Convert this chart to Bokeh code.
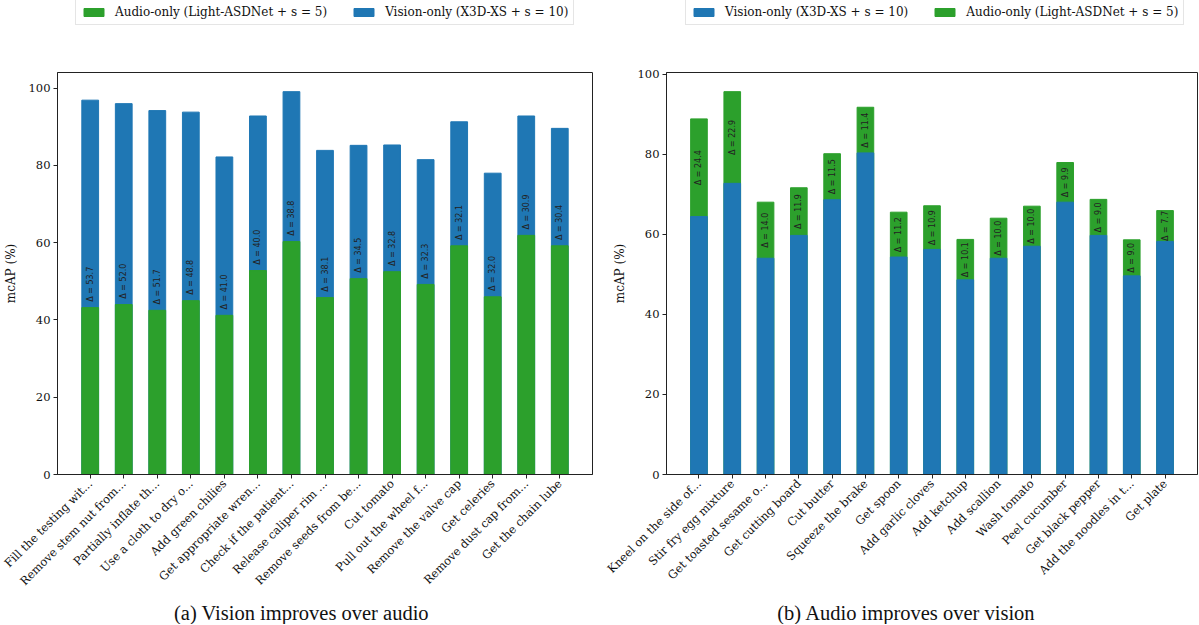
import math
from bokeh.plotting import figure
from bokeh.layouts import row, column
from bokeh.models import Legend, LegendItem, FixedTicker, ColumnDataSource, Range1d
from bokeh.core.properties import value
from bokeh.embed import file_html
from bokeh.resources import INLINE

# ---------------- data ----------------
left_actions = ["Fill the testing wit...", "Remove stem nut from...", "Partially inflate th...",
                "Use a cloth to dry o...", "Add green chilies", "Get appropriate wren...",
                "Check if the patient...", "Release caliper rim ...", "Remove seeds from be...",
                "Cut tomato", "Pull out the wheel f...", "Remove the valve cap",
                "Get celeries", "Remove dust cap from...", "Get the chain lube"]
left_audio = [43.2, 44.0, 42.5, 45.0, 41.2, 52.8, 60.3, 45.8, 50.7, 52.5, 49.2, 59.2, 46.0, 61.9, 59.2]
left_vision = [96.9, 96.0, 94.2, 93.8, 82.2, 92.8, 99.1, 83.9, 85.2, 85.3, 81.5, 91.3, 78.0, 92.8, 89.6]

right_actions = ["Kneel on the side of...", "Stir fry egg mixture", "Get toasted sesame o...",
                 "Get cutting board", "Cut butter", "Squeeze the brake", "Get spoon",
                 "Add garlic cloves", "Add ketchup", "Add scallion", "Wash tomato",
                 "Peel cucumber", "Get black pepper", "Add the noodles in t...", "Get plate"]
right_vision = [64.4, 72.7, 54.0, 59.7, 68.6, 80.3, 54.3, 56.2, 48.6, 54.0, 57.0, 68.0, 59.7, 49.6, 58.2]
right_audio = [88.8, 95.6, 68.0, 71.6, 80.1, 91.7, 65.5, 67.1, 58.7, 64.0, 67.0, 77.9, 68.7, 58.6, 65.9]

y_ticks = [0, 20, 40, 60, 80, 100]
audio_name = "Audio-only (Light-ASDNet + s = 5)"
vision_name = "Vision-only (X3D-XS + s = 10)"
captions = ["(a) Vision improves over audio", "(b) Audio improves over vision"]

GREEN = "#2ca02c"
BLUE = "#1f77b4"
SERIF = "DejaVu Serif"
TICK_FS = "11.5px"
TOTAL_W = 1198


def style(p, labels):
    p.xgrid.visible = False
    p.ygrid.visible = False
    p.outline_line_color = "#222222"
    p.outline_line_width = 1
    p.background_fill_color = "white"
    p.border_fill_color = "white"
    p.xaxis.ticker = FixedTicker(ticks=list(range(len(labels))))
    p.xaxis.major_label_overrides = {i: s for i, s in enumerate(labels)}
    p.xaxis.major_label_orientation = math.pi / 4
    p.yaxis.ticker = FixedTicker(ticks=y_ticks)
    for ax in (p.xaxis[0], p.yaxis[0]):
        ax.major_tick_out = 4
        ax.major_tick_in = 0
        ax.minor_tick_line_color = None
        ax.major_label_text_font = SERIF
        ax.major_label_text_font_size = TICK_FS
        ax.major_label_text_color = "#111111"
        ax.major_label_standoff = 3
        ax.axis_line_color = "#222222"
        ax.major_tick_line_color = "#222222"
    p.yaxis.axis_label = "mcAP (%)"
    p.yaxis.axis_label_text_font = SERIF
    p.yaxis.axis_label_text_font_size = "12px"
    p.yaxis.axis_label_text_font_style = "normal"
    p.yaxis.axis_label_text_color = "#111111"
    p.yaxis.axis_label_standoff = 8


def strip(h):
    s = figure(width=TOTAL_W, height=h, output_backend="svg", toolbar_location=None,
               x_range=Range1d(0, TOTAL_W), y_range=Range1d(0, h),
               x_axis_type=None, y_axis_type=None,
               min_border=0, min_border_left=0, min_border_right=0,
               min_border_top=0, min_border_bottom=0)
    s.xgrid.visible = False
    s.ygrid.visible = False
    s.outline_line_color = None
    s.background_fill_color = "white"
    s.border_fill_color = "white"
    return s


# ---------------- legend strip ----------------
LEG_H = 30
top = strip(LEG_H)
# a single zero-height, off-screen bar so that each renderer has data for its legend swatch
g_a = top.vbar(x=[-1000], top=[0], bottom=[0], width=0.5, fill_color=GREEN, line_color=GREEN)
g_v = top.vbar(x=[-1000], top=[0], bottom=[0], width=0.5, fill_color=BLUE, line_color=BLUE)


def mk_legend(items, loc):
    return Legend(items=items, location=loc, orientation="horizontal",
                  label_text_font=SERIF, label_text_font_size="12px",
                  label_text_color="#111111",
                  glyph_width=25, glyph_height=10, label_standoff=9, spacing=24,
                  padding=5, margin=0, label_height=12,
                  border_line_color="#cccccc", border_line_width=1,
                  background_fill_color="white", background_fill_alpha=1)


top.add_layout(mk_legend([LegendItem(label=audio_name, renderers=[g_a]),
                          LegendItem(label=vision_name, renderers=[g_v])], (75, 5)), "center")
top.add_layout(mk_legend([LegendItem(label=vision_name, renderers=[g_v]),
                          LegendItem(label=audio_name, renderers=[g_a])], (685, 5)), "center")

# ---------------- main panels ----------------
MAIN_H = 572

n = len(left_actions)
src_l = ColumnDataSource(dict(
    x=list(range(n)), audio=left_audio, vision=left_vision,
    ty=[a + 1.5 for a in left_audio],
    txt=[f"\u0394 = {v - a:.1f}" for v, a in zip(left_vision, left_audio)]))

p1 = figure(width=600, height=MAIN_H, output_backend="svg", toolbar_location=None,
            x_range=Range1d(-0.975, n - 1 + 0.975), y_range=Range1d(0, 104.06),
            min_border_left=54, min_border_right=8, min_border_top=41,
            min_border_bottom=MAIN_H - 41 - 403)
p1.vbar(x="x", top="vision", width=0.5, source=src_l, color=BLUE)
p1.vbar(x="x", top="audio", width=0.5, source=src_l, color=GREEN)
p1.text(x="x", y="ty", text="txt", source=src_l, angle=math.pi / 2,
        text_align="left", text_baseline="middle", text_font=value("DejaVu Sans"),
        text_font_size="8px", text_color="#222222")
style(p1, left_actions)

m = len(right_actions)
src_r = ColumnDataSource(dict(
    x=list(range(m)), audio=right_audio, vision=right_vision,
    ty=[(a + v) / 2 for a, v in zip(right_audio, right_vision)],
    txt=[f"\u0394 = {a - v:.1f}" for v, a in zip(right_vision, right_audio)]))

p2 = figure(width=TOTAL_W - 600, height=MAIN_H, output_backend="svg", toolbar_location=None,
            x_range=Range1d(-0.975, m - 1 + 0.975), y_range=Range1d(0, 100.38),
            min_border_left=66, min_border_right=1, min_border_top=42,
            min_border_bottom=MAIN_H - 42 - 407)
p2.vbar(x="x", top="audio", width=0.5, source=src_r, color=GREEN)
p2.vbar(x="x", top="vision", width=0.5, source=src_r, color=BLUE)
p2.text(x="x", y="ty", text="txt", source=src_r, angle=math.pi / 2,
        text_align="center", text_baseline="middle", text_font=value("DejaVu Sans"),
        text_font_size="8px", text_color="#222222")
style(p2, right_actions)

# ---------------- caption strip ----------------
CAP_H = 22
bottom = strip(CAP_H)
bottom.text(x=[301, 906], y=[CAP_H / 2 + 1, CAP_H / 2 + 1], text=captions,
            text_align="center", text_baseline="middle",
            text_font=value("Liberation Serif"), text_font_size="20.5px", text_color="#111111")

layout = column(top, row(p1, p2), bottom)
open("out.html", "w").write(file_html(layout, INLINE))
